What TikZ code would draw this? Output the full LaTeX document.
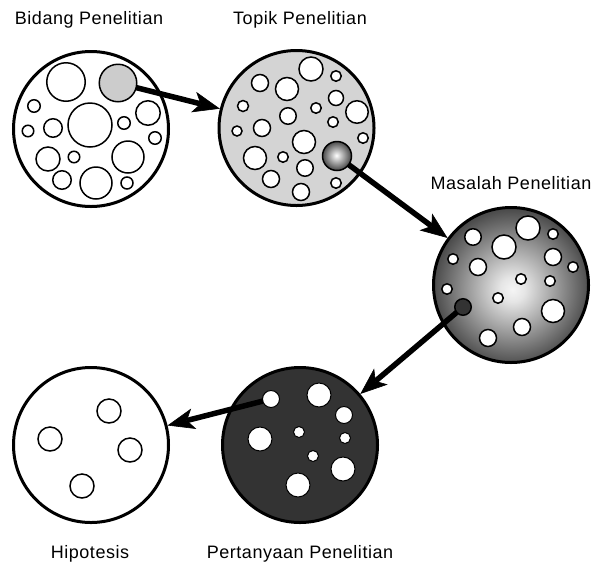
\documentclass[tikz,border=0pt]{standalone}
\usepackage{fontspec}
\setmainfont{Liberation Sans}[LetterSpace=3]
\usetikzlibrary{arrows.meta}
\pgfdeclareradialshading{glowbig}{\pgfpoint{0.5bp}{-1.5bp}}{color(0bp)=(white!96!black); color(4bp)=(white!90!black); color(25bp)=(black!70); color(50bp)=(black!70)}
\pgfdeclareradialshading{glowball}{\pgfpoint{-1bp}{1bp}}{color(0bp)=(white); color(25bp)=(black!72); color(50bp)=(black!72)}
\begin{document}
\begin{tikzpicture}[x=1pt,y=-1pt,
  big/.style={circle,draw,line width=3pt,inner sep=0pt,outer sep=1.5pt,minimum size=155pt},
  hole/.style={circle,draw,line width=1.5pt,fill=white,inner sep=0pt,outer sep=0pt,minimum size=#1pt},
  spot/.style={circle,draw=black,line width=1pt,fill=white,inner sep=0pt,outer sep=0pt,minimum size=#1pt},
  lbl/.style={anchor=base,font=\fontsize{18}{21}\selectfont},
  arr/.style={line width=5.5pt,-{Stealth[length=27pt,width=21pt,inset=7pt,line width=0.6pt]}}]
\useasboundingbox (0,0) rectangle (593,563);
% big circles
\node[big] (C1) at (91,129) {};
\node[big,fill=black!17] (C2) at (296.5,128) {};
\node[big,shade,shading=glowbig] (C3) at (511,285) {};
\node[big] (C4) at (91,445) {};
\node[big,fill=black!80] (C5) at (300,445) {};
% holes in C1
\foreach \x/\y/\d [count=\i] in {66/82/38.5, 34/106/12.5, 90/125/44, 148/113/24.5, 124/123/12.5, 28/131/11.5, 53/128/18.5, 155/138/12.5, 48/159/24, 74/157/11.5, 128/157/32, 62/180/18.5, 96/183/32, 127/183/12}
  \node[hole=\d] (a\i) at (\x,\y) {};
\node[hole=37.5,fill=black!20] (g1) at (118,83) {};
% holes in C2
\foreach \x/\y/\d [count=\i] in {311/69/24, 336/76/10.5, 260/83/17, 287/89/23, 336/98/15, 243/106/11, 316/108/10.5, 357/112/22.5, 288/116/16.5, 333/122/10.5, 237/131/10, 262/128/17, 304/142/23, 363/138/10.5, 255/158/23, 283/157/10.5, 305/168/16.5, 271/179/17, 336/183/10.5, 301/192/17}
  \node[hole=\d] (b\i) at (\x,\y) {};
\node[hole=29,shade,shading=glowball] (b2x) at (337,156) {};
% holes in C3
\foreach \x/\y/\d [count=\i] in {528/228/24, 473/237/16.5, 553/234/10.5, 504/247/24, 453/259/10.5, 553/257/17, 573/267/10.5, 478/267/17, 521/279/10.5, 550/281/10.5, 447/289/10.5, 498/298/10.5, 553/311/23, 522/327/17, 488/338/17}
  \node[hole=\d] (c\i) at (\x,\y) {};
\node[hole=16.5,fill=black!80] (d3) at (463,307) {};
% holes in C4
\foreach \x/\y [count=\i] in {109/411, 50/439, 130/450, 82/486}
  \node[hole=24] (e\i) at (\x,\y) {};
% holes in C5
\foreach \x/\y/\d [count=\i] in {319/395/24, 344/415/17, 260/439/24, 299/432/11, 345/438/11, 313/456/11, 343/469/24, 298/485/24}
  \node[spot=\d] (f\i) at (\x,\y) {};
\node[spot=17] (s5) at (271,399) {};
% arrows
\draw[arr] (g1) -- (C2);
\draw[arr] (b2x) -- (C3);
\draw[arr] (d3) -- (C5);
\draw[arr] (s5) -- (C4);
% labels
\node[lbl] (t1) at (89,24) {Bidang Penelitian};
\node[lbl] (t2) at (300,24) {Topik Penelitian};
\node[lbl] (t3) at (511,189) {Masalah Penelitian};
\node[lbl] (t4) at (90,558) {Hipotesis};
\node[lbl] (t5) at (300,558) {Pertanyaan Penelitian};
\end{tikzpicture}
\end{document}
